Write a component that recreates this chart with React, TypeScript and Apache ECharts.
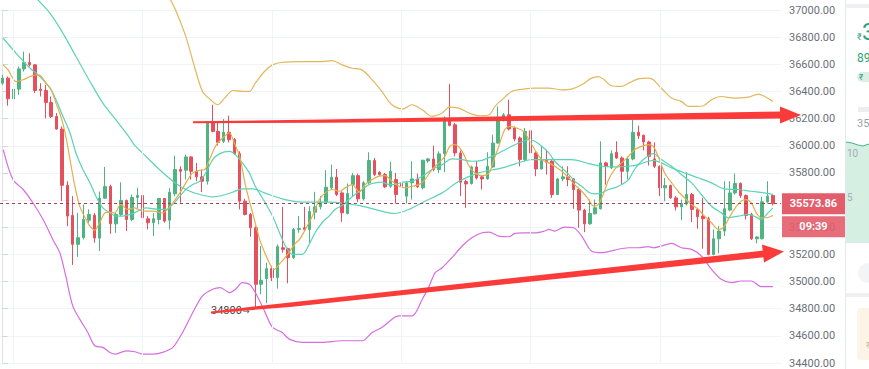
import React, { useEffect, useRef } from "react";
import * as echarts from "echarts";

const opens = [36461,36498,36346,36417,36566,36613,36596,36417,36407,36319,36216,36123,35709,35487,35274,35323,35452,35489,35320,35614,35700,35425,35494,35597,35457,35619,35634,35462,35433,35457,35612,35452,35646,35825,35820,35918,35812,35771,35739,36167,36106,36033,36099,36045,35942,35592,35494,35396,34980,35022,35095,35029,35249,35242,35176,35384,35396,35384,35511,35550,35585,35690,35768,35653,35501,35714,35780,35609,35727,35891,35805,35788,35702,35751,35722,35629,35727,35756,35690,35888,35903,35825,35942,36187,36155,35947,35736,35722,35844,35771,35756,35844,36020,36187,36228,36131,36057,35898,36111,35947,35829,35893,35886,35641,35756,35771,35756,35678,35526,35425,35499,35536,35874,35837,35952,35910,35812,35903,36099,36077,36028,35903,35849,35690,35707,35616,35550,35572,35641,35531,35482,35462,35200,35315,35372,35526,35653,35722,35634,35494,35315,35315,35587,35634];
const closes = [36498,36346,36417,36566,36613,36596,36407,36407,36319,36216,36123,35709,35482,35274,35323,35457,35494,35320,35614,35700,35425,35494,35597,35457,35619,35634,35470,35433,35462,35612,35445,35658,35825,35812,35918,35812,35771,35739,36167,36106,36025,36099,36045,35942,35592,35494,35396,34980,35009,35095,35029,35257,35237,35176,35384,35391,35384,35516,35550,35585,35695,35768,35641,35506,35648,35780,35609,35727,35891,35788,35788,35697,35812,35641,35702,35727,35756,35697,35893,35903,35825,35940,36187,36150,35947,35731,35719,35844,35763,35756,35849,36020,36187,36228,36123,36050,35898,36106,35947,35829,35891,35878,35641,35756,35771,35751,35678,35526,35425,35501,35543,35874,35849,35942,35910,35812,35903,36099,36074,36028,35922,35849,35690,35707,35616,35550,35575,35641,35531,35477,35462,35200,35315,35372,35536,35653,35722,35634,35487,35315,35328,35587,35629,35573.86];
const lows = [36449,36295,36050,36375,36547,36583,36388,36363,36202,36204,36118,35592,35408,35122,35181,35310,35433,35286,35225,35609,35352,35359,35482,35372,35445,35536,35457,35384,35335,35421,35433,35384,35629,35580,35751,35751,35739,35658,35714,36099,36001,36020,36025,35935,35531,35487,35330,34809,34907,34840,35004,34948,35213,34987,35168,35359,35372,35286,35457,35531,35575,35678,35629,35440,35494,35629,35585,35597,35719,35776,35776,35690,35690,35575,35575,35575,35604,35690,35678,35874,35812,35800,35805,36143,35922,35629,35543,35714,35751,35678,35751,35837,36015,36180,36113,36033,35849,35886,35935,35776,35825,35788,35616,35636,35739,35702,35536,35396,35364,35418,35494,35531,35714,35829,35903,35719,35751,35893,36050,35966,35854,35837,35629,35592,35609,35523,35452,35560,35438,35389,35242,35193,35193,35208,35335,35518,35641,35616,35457,35306,35281,35310,35575,35560];
const highs = [36522,36510,36583,36583,36694,36681,36603,36461,36449,36363,36241,36143,35739,35629,35506,35568,35531,35506,35663,35844,35714,35506,35731,35604,35641,35690,35641,35482,35506,35616,35616,35690,35927,35849,35935,35922,35874,35825,36180,36302,36180,36197,36221,36057,35959,35609,35506,35408,35262,35139,35115,35274,35550,35249,35394,35482,35550,35555,35661,35629,35820,35861,35829,35665,35722,35800,35795,35739,35952,35910,35812,35800,35881,35800,35731,35739,35886,35795,35898,35910,36001,35959,36216,36456,36167,35966,35751,35854,35886,35780,35952,36082,36290,36241,36339,36143,36069,36131,36192,35959,35996,35971,35898,35763,35849,35849,35763,35690,35536,35604,35604,36033,35883,35966,36033,35922,35922,36192,36148,36082,36037,36025,35854,35763,35714,35629,35604,35805,35653,35543,35616,35477,35384,35408,35739,35739,35795,35731,35641,35506,35335,35624,35739,35641];

const maFast = [[0.1,36596],[1.0,36559],[2.5,36473],[3.8,36486],[5.1,36510],[6.2,36522],[7.1,36515],[8.0,36461],[9.0,36412],[9.9,36314],[10.8,36216],[11.6,36094],[12.5,35898],[13.4,35702],[14.3,35555],[15.3,35470],[16.2,35408],[17.1,35379],[18.0,35433],[19.0,35506],[19.9,35511],[20.8,35506],[21.9,35568],[23.2,35531],[24.5,35543],[26.0,35519],[27.9,35519],[29.7,35506],[30.6,35531],[31.6,35580],[32.9,35653],[34.0,35727],[35.3,35800],[36.6,35820],[37.5,35825],[38.4,35898],[39.5,35996],[40.8,36057],[42.1,36094],[43.0,36020],[44.0,35922],[45.1,35702],[46.4,35506],[47.7,35310],[48.4,35237],[49.5,35139],[50.4,35090],[51.6,35139],[52.9,35200],[54.2,35274],[55.1,35310],[56.2,35384],[57.5,35482],[58.8,35604],[59.9,35653],[61.2,35678],[62.5,35665],[63.6,35690],[64.9,35714],[66.2,35658],[67.3,35714],[68.6,35751],[69.9,35776],[71.0,35780],[72.3,35739],[73.6,35702],[74.7,35690],[76.0,35702],[77.3,35714],[78.4,35751],[79.7,35825],[81.0,35874],[82.1,35922],[83.0,35996],[84.0,36008],[85.3,35959],[86.6,35849],[87.7,35800],[89.0,35780],[90.3,35800],[91.2,35898],[92.1,35996],[93.2,36118],[94.2,36143],[95.4,36131],[96.7,36106],[97.7,36045],[98.8,35971],[100.1,35898],[101.4,35874],[102.5,35849],[103.8,35812],[105.1,35763],[106.2,35714],[107.5,35665],[108.8,35604],[109.7,35555],[110.6,35568],[111.6,35653],[112.5,35751],[113.6,35825],[114.9,35874],[116.2,35922],[117.3,35971],[118.6,35996],[119.9,36008],[120.8,35996],[121.7,35922],[122.9,35800],[124.2,35727],[125.4,35665],[126.6,35616],[127.9,35568],[129.2,35531],[130.3,35482],[131.6,35433],[132.9,35384],[133.8,35396],[134.7,35457],[135.8,35531],[137.1,35592],[138.0,35604],[139.0,35580],[139.9,35506],[140.8,35470],[141.7,35470],[143.0,35487]];
const maMid = [[0.1,36792],[2.5,36681],[5.1,36571],[6.9,36510],[8.8,36424],[9.9,36339],[11.2,36216],[12.5,36094],[13.6,35947],[14.9,35825],[16.2,35727],[17.3,35629],[18.6,35543],[19.9,35506],[21.0,35482],[22.3,35482],[23.6,35494],[24.5,35506],[26.6,35543],[29.1,35531],[30.3,35531],[31.6,35568],[32.9,35629],[34.0,35678],[35.3,35714],[36.6,35739],[37.7,35800],[39.0,35898],[40.3,35942],[42.1,35959],[43.2,35935],[44.5,35874],[45.8,35800],[46.9,35702],[48.2,35617],[50.1,35482],[51.4,35359],[52.5,35262],[53.8,35200],[55.6,35200],[56.9,35274],[58.0,35359],[59.3,35433],[60.6,35482],[61.7,35531],[63.0,35560],[64.3,35604],[65.4,35641],[66.7,35678],[68.0,35714],[69.2,35727],[70.4,35732],[71.7,35714],[72.7,35714],[74.2,35732],[76.0,35739],[77.9,35776],[79.7,35825],[81.6,35861],[83.4,35903],[85.3,35898],[87.1,35886],[89.0,35893],[90.8,35922],[92.7,35959],[94.5,35996],[95.8,36020],[96.7,36033],[97.7,36045],[98.8,36033],[100.1,35996],[101.4,35947],[102.5,35886],[103.8,35837],[105.1,35788],[106.2,35739],[107.5,35702],[108.8,35658],[109.9,35646],[111.2,35653],[112.5,35678],[113.6,35690],[114.9,35714],[116.2,35751],[117.3,35825],[118.6,35886],[119.9,35927],[120.8,35942],[122.3,35898],[124.2,35849],[126.0,35788],[127.9,35727],[129.7,35641],[131.6,35555],[133.4,35506],[134.7,35470],[136.6,35482],[138.4,35494],[139.5,35482],[140.8,35457],[142.1,35506],[143.0,35543]];
const maSlow = [[2.9,37220],[6.6,37073],[8.8,36975],[11.2,36828],[13.6,36657],[16.2,36473],[18.6,36314],[21.0,36192],[23.6,36057],[24.5,36003],[26.6,35922],[29.1,35825],[31.6,35739],[34.0,35678],[36.6,35641],[39.0,35624],[40.8,35634],[42.7,35658],[44.5,35683],[46.4,35683],[48.6,35653],[51.9,35609],[55.6,35585],[60.6,35585],[63.6,35575],[66.7,35555],[70.4,35518],[72.7,35501],[75.4,35531],[78.4,35592],[81.6,35653],[84.7,35739],[88.4,35800],[92.7,35837],[96.7,35886],[98.2,35898],[101.4,35898],[105.6,35898],[108.8,35869],[111.2,35849],[113.6,35844],[116.2,35849],[118.0,35861],[119.9,35886],[120.8,35893],[122.3,35874],[124.2,35837],[126.6,35800],[129.2,35763],[131.6,35727],[134.0,35683],[136.6,35678],[139.0,35665],[141.4,35653],[143.0,35641]];
const bandUpper = [[25.0,37700],[28.8,37293],[31.2,37073],[32.1,37000],[34.0,36804],[35.6,36584],[37.1,36400],[38.6,36339],[39.9,36302],[41.2,36351],[42.7,36407],[44.5,36400],[45.8,36400],[46.9,36461],[48.6,36547],[50.1,36596],[51.9,36615],[55.6,36620],[59.3,36620],[61.2,36627],[63.0,36596],[64.9,36571],[66.7,36559],[68.6,36486],[70.4,36400],[71.7,36326],[72.7,36290],[74.2,36270],[76.0,36302],[77.9,36265],[79.7,36216],[81.6,36241],[82.9,36285],[84.7,36277],[86.6,36241],[88.4,36221],[90.3,36228],[91.4,36290],[92.7,36339],[94.5,36400],[96.7,36417],[98.8,36424],[101.4,36424],[103.8,36412],[105.6,36417],[107.5,36449],[109.3,36498],[110.6,36510],[111.7,36486],[113.0,36442],[114.9,36437],[116.2,36461],[118.0,36493],[119.9,36498],[120.8,36486],[122.3,36424],[124.2,36351],[126.0,36327],[127.3,36290],[128.4,36290],[130.1,36295],[131.6,36339],[133.4,36363],[135.8,36351],[138.4,36358],[140.3,36380],[141.7,36358],[143.0,36327]];
const bandLower = [[0.1,35972],[1.9,35751],[3.8,35678],[5.6,35580],[7.5,35457],[9.3,35310],[10.6,35213],[11.7,35041],[13.0,34821],[14.3,34723],[15.8,34625],[17.1,34527],[18.6,34515],[19.9,34478],[21.0,34466],[22.9,34490],[24.5,34483],[26.0,34466],[27.9,34466],[29.7,34478],[31.6,34515],[33.4,34625],[35.3,34772],[37.1,34894],[39.0,34943],[40.4,34955],[42.1,34919],[43.2,34943],[44.5,34992],[45.8,34980],[46.9,34919],[48.6,34784],[50.1,34662],[51.9,34625],[53.2,34576],[55.6,34552],[59.3,34552],[63.0,34564],[66.7,34564],[68.6,34625],[70.4,34662],[72.7,34735],[73.6,34747],[76.0,34747],[77.9,34870],[79.2,34968],[80.3,35066],[81.6,35102],[83.4,35176],[85.3,35262],[87.1,35323],[89.0,35359],[90.3,35364],[92.1,35335],[94.0,35330],[95.1,35355],[96.7,35359],[98.8,35359],[100.6,35372],[101.4,35384],[102.5,35372],[104.3,35401],[106.0,35396],[107.5,35335],[109.3,35225],[111.2,35213],[113.6,35232],[116.2,35249],[118.0,35249],[119.9,35257],[120.8,35249],[122.3,35262],[124.2,35281],[126.0,35249],[127.9,35237],[129.7,35188],[131.6,35090],[133.4,35017],[135.3,34992],[137.1,35004],[139.0,35004],[140.8,34963],[143.0,34963]];

const gridIdx = [2, 26, 50, 74, 98, 122];
const lastPrice = 35573.86;
const lastTime = "09:39";
const hiddenTick = 35600;
const noteLabel = "34800";
const categoryCount = 145;

const UP = "#4fb382";
const DOWN = "#e5505e";
const ARROW = "#fb3a3a";

export default function App() {
  const ref = useRef<HTMLDivElement>(null);
  useEffect(() => {
    const chart = echarts.init(ref.current!, null, { renderer: "svg" });
    const categories = Array.from({ length: categoryCount }, (_, i) => String(i));
    const ohlc = opens.map((o, i) => [o, closes[i], lows[i], highs[i]]);
    const lineCommon = {
      type: "line",
      xAxisIndex: 1,
      showSymbol: false,
      symbol: "none",
      smooth: 0.3,
      clip: false,
      silent: true,
      z: 4,
    };
    chart.setOption({
      animation: false,
      backgroundColor: "#ffffff",
      grid: { left: -3, right: 88, top: 10, bottom: 6, containLabel: false },
      xAxis: [
        { type: "category", data: categories, boundaryGap: true, show: false },
        { type: "value", min: -0.5, max: categoryCount - 0.5, show: false },
      ],
      yAxis: {
        type: "value",
        position: "right",
        min: 34400,
        max: 37000,
        interval: 200,
        axisLine: { show: true, lineStyle: { color: "#dfe2e8", width: 1 } },
        axisTick: { show: true, length: 5, lineStyle: { color: "#d0d4dc" } },
        axisLabel: {
          formatter: (v: number) => (v === hiddenTick ? "" : v.toFixed(2)),
          color: "#6b6f78",
          fontSize: 11,
          margin: 8,
          fontFamily: "Roboto",
        },
        splitLine: { show: true, lineStyle: { color: "#f0f3f8", width: 1 } },
      },
      series: [
        {
          type: "line",
          xAxisIndex: 1,
          data: [],
          silent: true,
          z: 0,
          markLine: {
            silent: true,
            symbol: ["none", "none"],
            label: { show: false },
            lineStyle: { color: "#f0f3f8", type: "solid", width: 1 },
            data: gridIdx.map((v) => ({ xAxis: v })),
          },
        },
        {
          type: "candlestick",
          xAxisIndex: 0,
          data: ohlc,
          barWidth: 3,
          clip: false,
          z: 3,
          itemStyle: {
            color: UP,
            color0: DOWN,
            borderColor: UP,
            borderColor0: DOWN,
            borderWidth: 1,
          },
          markLine: {
            silent: true,
            symbol: ["none", "none"],
            lineStyle: { color: "#a8424f", type: [3, 3], width: 1 },
            label: {
              show: true,
              position: "end",
              distance: 1,
              padding: [23, 0, 0, 0],
              formatter: () => `{a|${lastPrice.toFixed(2)}}\n{g| }\n{b|${lastTime}}`,
              rich: {
                a: {
                  backgroundColor: "#e35d6a",
                  color: "#ffffff",
                  fontWeight: "bold",
                  fontSize: 11,
                  fontFamily: "Roboto",
                  width: 63,
                  height: 21,
                  lineHeight: 21,
                  align: "center",
                },
                g: { fontSize: 1, height: 2, lineHeight: 2 },
                b: {
                  backgroundColor: "rgba(227,93,106,0.9)",
                  color: "#ffffff",
                  fontWeight: "bold",
                  fontSize: 11,
                  fontFamily: "Roboto",
                  width: 63,
                  height: 21,
                  lineHeight: 21,
                  align: "center",
                },
              },
            },
            data: [{ yAxis: lastPrice }],
          },
        },
        { ...lineCommon, name: "upper", data: bandUpper, lineStyle: { color: "#e3b75c", width: 1.2 } },
        { ...lineCommon, name: "lower", data: bandLower, lineStyle: { color: "#d66ee0", width: 1.2 } },
        { ...lineCommon, name: "slow", data: maSlow, lineStyle: { color: "#5ad3b6", width: 1.2 } },
        { ...lineCommon, name: "mid", data: maMid, lineStyle: { color: "#5ad3b6", width: 1.2 } },
        { ...lineCommon, name: "fast", data: maFast, lineStyle: { color: "#e4ae4c", width: 1.2 } },
      ],
      graphic: [
        { type: "polygon", z: 100, shape: { points: [[193, 121.3], [325, 119.6], [782, 111.5], [782, 118.5], [325, 122.8], [193, 123.2]] }, style: { fill: ARROW } },
        { type: "polygon", z: 100, shape: { points: [[780, 106.5], [801, 115], [780, 123.5]] }, style: { fill: ARROW } },
        { type: "polygon", z: 100, shape: { points: [[211, 311.6], [290, 302.4], [764, 250.6], [764, 257.2], [290, 306.9], [211, 313.4]] }, style: { fill: ARROW } },
        { type: "polygon", z: 100, shape: { points: [[762, 244.5], [784, 251.5], [764, 262.5]] }, style: { fill: ARROW } },
        { type: "text", z: 99, x: 211, y: 310, style: { text: noteLabel, fill: "#4a4a4a", font: "11px Roboto", verticalAlign: "middle" } },
        { type: "text", z: 99, x: 243, y: 311, style: { text: "→", fill: "#4a4a4a", font: "8px 'DejaVu Sans'", verticalAlign: "middle" } },
        { type: "rect", z: 50, shape: { x: 845, y: 0, width: 24, height: 369 }, style: { fill: "#ffffff" } },
        { type: "line", z: 51, shape: { x1: 845.5, y1: 0, x2: 845.5, y2: 369 }, style: { stroke: "#e6e8ec", lineWidth: 1 } },
        { type: "rect", z: 51, shape: { x: 846, y: 4, width: 23, height: 4 }, style: { fill: "#eef0f3" } },
        { type: "text", z: 51, x: 857, y: 37, style: { text: "₹", fill: "#2aa37a", font: "9px Roboto", verticalAlign: "middle" } },
        { type: "text", z: 51, x: 862, y: 32, style: { text: "3", fill: "#2aa37a", font: "24px Roboto", verticalAlign: "middle" } },
        { type: "text", z: 51, x: 857, y: 58, style: { text: "89", fill: "#2aa37a", font: "12px Roboto", verticalAlign: "middle" } },
        { type: "rect", z: 51, shape: { x: 857, y: 72, width: 20, height: 10, r: 5 }, style: { fill: "#dcefe5" } },
        { type: "text", z: 52, x: 859, y: 77, style: { text: "₹", fill: "#2aa37a", font: "8px Roboto", verticalAlign: "middle" } },
        { type: "rect", z: 51, shape: { x: 858, y: 107, width: 11, height: 5 }, style: { fill: "#eceef1" } },
        { type: "text", z: 51, x: 857, y: 123, style: { text: "35", fill: "#9aa0a8", font: "11px Roboto", verticalAlign: "middle" } },
        { type: "polygon", z: 51, shape: { points: [[846, 142], [852, 143], [858, 145], [863, 146], [869, 144], [869, 243], [846, 243]] }, style: { fill: "#d5efe3" } },
        { type: "polyline", z: 52, shape: { points: [[846, 142], [852, 143], [858, 145], [863, 146], [869, 144]] }, style: { stroke: "#48b584", lineWidth: 1, fill: "none" } },
        { type: "text", z: 53, x: 847, y: 153, style: { text: "10", fill: "#a3adb3", font: "10px Roboto", verticalAlign: "middle" } },
        { type: "text", z: 53, x: 847, y: 197, style: { text: "5", fill: "#a3adb3", font: "10px Roboto", verticalAlign: "middle" } },
        { type: "rect", z: 51, shape: { x: 858, y: 263, width: 20, height: 20, r: 10 }, style: { fill: "#f3f4f6" } },
        { type: "rect", z: 51, shape: { x: 846, y: 293, width: 23, height: 4 }, style: { fill: "#eef0f3" } },
        { type: "rect", z: 51, shape: { x: 857, y: 308, width: 20, height: 52, r: 4 }, style: { fill: "#fdf4e8" } },
        { type: "text", z: 52, x: 866, y: 345, style: { text: "₹", fill: "#c9b89a", font: "8px Roboto", verticalAlign: "middle" } },
      ],
    });
    return () => chart.dispose();
  }, []);
  return (
    <div
      ref={ref}
      style={{ position: "absolute", left: 0, top: 0, width: 869, height: 369 }}
    />
  );
}
